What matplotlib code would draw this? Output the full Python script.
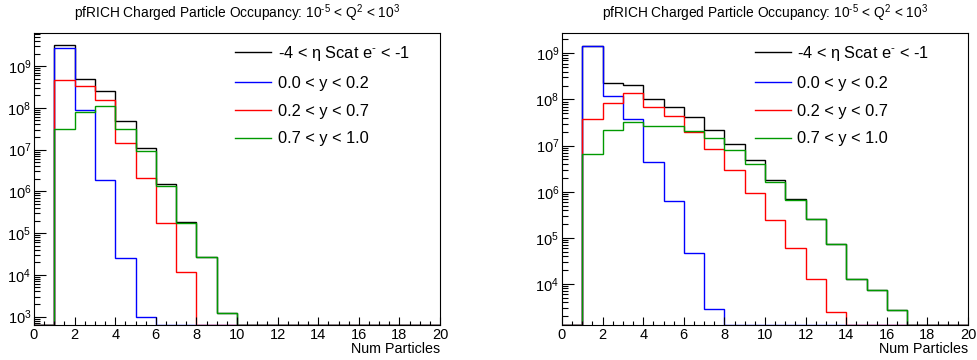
import numpy as np
import matplotlib
matplotlib.use("Agg")
import matplotlib.pyplot as plt
from matplotlib.ticker import LogLocator, LogFormatterMathtext, MultipleLocator
from matplotlib.lines import Line2D

plt.rcParams['font.family'] = ['Liberation Sans', 'DejaVu Sans']
plt.rcParams['mathtext.fontset'] = 'custom'
plt.rcParams['mathtext.rm'] = 'Liberation Sans'
plt.rcParams['mathtext.it'] = 'Liberation Sans:italic'
plt.rcParams['mathtext.bf'] = 'Liberation Sans:bold'
plt.rcParams['mathtext.default'] = 'regular'

# ---- data ----
bin_edges = list(range(0, 21))
labels = [r"-4 < η Scat e$^{\text{-}}$ < -1", "0.0 < y < 0.2", "0.2 < y < 0.7", "0.7 < y < 1.0"]
colors = ["#000000", "#0000ff", "#ff0000", "#009900"]
title = r"pfRICH Charged Particle Occupancy: 10$^{\text{-5}}$ < Q$^{2}$ < 10$^{3}$"
xlabel = "Num Particles"

# left panel (bins 0..19)
left_all = [0, 3.2e9, 5.0e8, 2.6e8, 4.8e7, 1.1e7, 1.5e6, 1.8e5, 2.7e4, 1.2e3,
            0, 0, 0, 0, 0, 0, 0, 0, 0, 0]
left_y1 = [0, 2.7e9, 8.7e7, 1.9e6, 2.5e4, 1.0e3, 0, 0, 0, 0,
           0, 0, 0, 0, 0, 0, 0, 0, 0, 0]
left_y2 = [0, 4.6e8, 3.4e8, 1.5e8, 1.4e7, 2.1e6, 1.7e5, 1.2e4, 0, 0,
           0, 0, 0, 0, 0, 0, 0, 0, 0, 0]
left_y3 = [0, 3.2e7, 8.0e7, 1.1e8, 3.2e7, 9.1e6, 1.35e6, 1.7e5, 2.7e4, 1.2e3,
           0, 0, 0, 0, 0, 0, 0, 0, 0, 0]

# right panel (bins 0..19)
right_all = [0, 1.45e9, 2.3e8, 2.1e8, 1.0e8, 7.0e7, 4.2e7, 2.2e7, 1.1e7, 4.8e6,
             1.8e6, 7.1e5, 2.6e5, 7.4e4, 1.3e4, 7.4e3, 2.7e3, 0, 0, 0]
right_y1 = [0, 1.45e9, 1.2e8, 3.8e7, 4.4e6, 6.2e5, 4.7e4, 2.8e3, 0, 0,
            0, 0, 0, 0, 0, 0, 0, 0, 0, 0]
right_y2 = [0, 3.7e7, 8.5e7, 1.35e8, 7.0e7, 4.4e7, 2.0e7, 8.3e6, 2.9e6, 9.5e5,
            2.4e5, 5.9e4, 1.26e4, 2.5e3, 0, 0, 0, 0, 0, 0]
right_y3 = [0, 6.5e6, 2.2e7, 3.2e7, 2.6e7, 2.7e7, 2.1e7, 1.45e7, 8.0e6, 4.0e6,
            1.6e6, 6.6e5, 2.6e5, 7.4e4, 1.3e4, 7.4e3, 2.7e3, 0, 0, 0]

left_ylim = (630, 6.2e9)
right_ylim = (1.29e3, 2.76e9)

W, H = 977, 360
fig = plt.figure(figsize=(W / 100, H / 100), dpi=100)

def make_axes(x0, x1, y0, y1):
    return fig.add_axes([x0 / W, 1 - y1 / H, (x1 - x0) / W, (y1 - y0) / H])

axL = make_axes(34, 440, 33, 325)
axR = make_axes(562, 968, 33, 325)

def draw(ax, series, ylim, leg_x):
    ymin = ylim[0]
    handles = []
    for vals, c, lab in zip(series, colors, labels):
        v = np.clip(np.array(vals, dtype=float), ymin, None)
        ax.stairs(v, bin_edges, baseline=ymin, color=c, lw=1.0, fill=False)
        handles.append(Line2D([], [], color=c, lw=1.0, label=lab))
    ax.set_yscale('log')
    ax.set_xlim(0, 20)
    ax.set_ylim(*ylim)
    ax.yaxis.set_major_locator(LogLocator(base=10, numticks=20))
    ax.yaxis.set_minor_locator(LogLocator(base=10, subs=np.arange(2, 10), numticks=20))
    ax.yaxis.set_major_formatter(LogFormatterMathtext())
    ax.xaxis.set_major_locator(MultipleLocator(2))
    ax.xaxis.set_minor_locator(MultipleLocator(0.5))
    ax.tick_params(axis='both', which='both', direction='in', top=False, right=False,
                   labelsize=10.5, width=0.8)
    ax.tick_params(axis='y', which='major', length=8.5, pad=2)
    ax.tick_params(axis='y', which='minor', length=4.3)
    ax.tick_params(axis='x', which='major', length=5.8, pad=2.5)
    ax.tick_params(axis='x', which='minor', length=2.9)
    for s in ax.spines.values():
        s.set_linewidth(0.8)
    ax.set_title(title, fontsize=9.9, pad=11)
    ax.set_xlabel(xlabel, fontsize=10.3, loc='right', labelpad=0)
    ax.legend(handles=handles, loc='upper left', bbox_to_anchor=(leg_x, 0.962),
              frameon=False, fontsize=11.8, handlelength=2.2, handletextpad=0.4,
              labelspacing=0.78, borderaxespad=0, borderpad=0)

draw(axL, [left_all, left_y1, left_y2, left_y3], left_ylim, 0.495)
draw(axR, [right_all, right_y1, right_y2, right_y3], right_ylim, 0.475)

fig.savefig("out.png", dpi=100)
